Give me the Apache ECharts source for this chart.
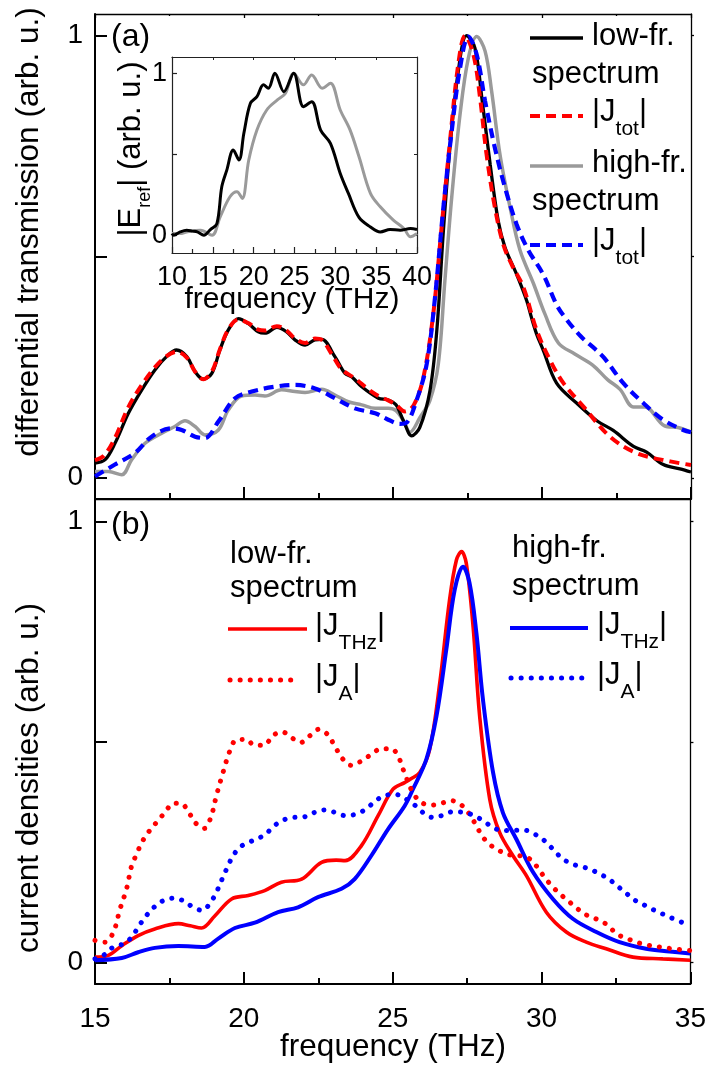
<!DOCTYPE html>
<html><head><meta charset="utf-8">
<script src="https://cdn.jsdelivr.net/npm/echarts@6/dist/echarts.min.js"></script>
<style>html,body{margin:0;padding:0;background:#fff}#c{width:709px;height:1068px}</style>
</head><body><div id="c"></div><script>
// ---------- DATA ----------
// Panel (a): differential transmission, [frequency THz, value]
const lowSpecTrans = [[15,0.033],[15.34,0.041],[15.67,0.078],[16.12,0.146],[16.57,0.199],[17.01,0.244],[17.4,0.274],[17.74,0.289],[18.08,0.274],[18.36,0.24],[18.63,0.223],[18.92,0.236],[19.19,0.289],[19.47,0.334],[19.81,0.36],[20.14,0.349],[20.48,0.33],[20.7,0.327],[21.1,0.34],[21.43,0.33],[21.71,0.312],[22.05,0.30],[22.38,0.312],[22.61,0.313],[23.05,0.274],[23.39,0.236],[23.62,0.228],[23.95,0.206],[24.51,0.18],[24.84,0.176],[25.1,0.165],[25.35,0.129],[25.63,0.095],[25.9,0.114],[26.24,0.197],[26.47,0.333],[26.69,0.558],[26.91,0.746],[27.19,0.919],[27.47,1.0],[27.75,0.972],[27.98,0.86],[28.26,0.709],[28.53,0.581],[28.76,0.521],[29.15,0.46],[29.49,0.40],[29.64,0.364],[29.82,0.325],[30.04,0.289],[30.49,0.214],[31.16,0.169],[31.84,0.129],[32.39,0.107],[33.07,0.071],[33.51,0.058],[34.07,0.03],[34.63,0.02],[35,0.013]];
const lowSpecJtot = [[15,0.04],[15.3,0.05],[15.67,0.09],[16.12,0.16],[16.57,0.21],[17.01,0.25],[17.4,0.275],[17.74,0.285],[18.08,0.272],[18.36,0.24],[18.63,0.223],[18.92,0.24],[19.19,0.29],[19.47,0.335],[19.81,0.358],[20.14,0.35],[20.48,0.335],[20.7,0.333],[21.1,0.343],[21.43,0.333],[21.71,0.315],[22.05,0.305],[22.38,0.315],[22.61,0.312],[22.94,0.28],[23.28,0.245],[23.72,0.225],[24.17,0.2],[24.51,0.185],[24.84,0.175],[25.1,0.165],[25.4,0.15],[25.7,0.165],[26.02,0.227],[26.35,0.37],[26.63,0.566],[26.91,0.76],[27.19,0.935],[27.42,1.0],[27.7,0.957],[27.92,0.86],[28.14,0.731],[28.42,0.611],[28.7,0.528],[29.0,0.48],[29.37,0.432],[29.82,0.334],[30.27,0.266],[30.72,0.214],[31.39,0.161],[32.28,0.093],[33.17,0.056],[34.3,0.037],[35,0.029]];
const highSpecTrans = [[15,0.014],[15.45,0.014],[15.9,0.007],[16.23,0.041],[16.68,0.078],[17.24,0.101],[17.68,0.116],[18.02,0.129],[18.36,0.116],[18.69,0.097],[19.14,0.108],[19.47,0.153],[19.92,0.185],[20.37,0.187],[20.7,0.185],[21.26,0.199],[21.71,0.195],[22.05,0.193],[22.61,0.2],[23.05,0.187],[23.5,0.172],[23.95,0.165],[24.4,0.157],[24.84,0.157],[25.1,0.152],[25.35,0.129],[25.57,0.103],[25.91,0.137],[26.24,0.175],[26.52,0.257],[26.74,0.445],[26.97,0.634],[27.25,0.822],[27.53,0.95],[27.81,0.998],[28.09,0.965],[28.31,0.874],[28.59,0.731],[28.93,0.611],[29.26,0.515],[29.71,0.44],[30.1,0.37],[30.55,0.305],[31.1,0.28],[31.7,0.255],[32.2,0.222],[32.62,0.2],[33.07,0.16],[33.45,0.16],[34.1,0.118],[34.6,0.113],[35,0.103]];
const highSpecJtot = [[15,0.003],[15.67,0.03],[16.34,0.056],[16.9,0.093],[17.57,0.112],[17.91,0.108],[18.36,0.093],[18.69,0.09],[19.14,0.127],[19.7,0.18],[20.26,0.195],[21.04,0.206],[21.71,0.21],[22.38,0.202],[23.05,0.18],[23.72,0.157],[24.4,0.146],[24.79,0.133],[25.23,0.122],[25.46,0.125],[25.79,0.175],[26.13,0.257],[26.41,0.408],[26.69,0.611],[26.97,0.784],[27.25,0.927],[27.53,0.998],[27.81,0.957],[28.09,0.852],[28.42,0.746],[28.76,0.656],[29.15,0.573],[29.54,0.515],[30.04,0.46],[30.5,0.39],[30.8,0.36],[31.3,0.32],[31.8,0.29],[32.1,0.27],[32.73,0.214],[33.4,0.169],[34.07,0.131],[34.74,0.108],[35,0.103]];
// Inset: reference field spectra
const insetLow = [[10,0.01],[10.2,0.0],[11,0.02],[11.8,0.03],[12.5,0.025],[13.1,0.02],[13.9,0.0],[14.7,0.035],[15.5,0.072],[16.1,0.3],[16.7,0.4],[17.5,0.526],[18.2,0.464],[18.8,0.629],[19.6,0.814],[20.4,0.855],[21.2,0.928],[21.8,0.907],[22.6,1.0],[23.7,0.886],[24.9,1.0],[26.1,0.793],[27.1,0.824],[28.2,0.649],[29.4,0.567],[30.6,0.381],[31.6,0.258],[32.9,0.11],[34.3,0.051],[35.5,0.02],[36.7,0.035],[37.95,0.031],[39.2,0.041],[40,0.035]];
const insetHigh = [[10,0.01],[11,0.01],[11.8,0.02],[13.5,0.03],[14.9,0.0],[15.9,0.113],[17.1,0.237],[17.95,0.268],[18.6,0.227],[19.4,0.464],[20.4,0.649],[21.6,0.773],[22.9,0.835],[23.9,0.876],[24.9,1.0],[26.1,0.928],[27.1,0.989],[28.4,0.907],[29.4,0.938],[30.6,0.773],[31.8,0.65],[32.9,0.484],[34.3,0.258],[35.5,0.175],[37.1,0.093],[38.4,0.041],[39.2,-0.01],[40,0.01]];
// Panel (b): current densities
const lowJTHz = [[15,0.012],[15.45,0.016],[15.9,0.038],[16.45,0.061],[17.01,0.076],[17.8,0.088],[18.2,0.083],[18.58,0.078],[19.03,0.106],[19.59,0.144],[20.15,0.152],[20.7,0.163],[21.26,0.182],[21.94,0.189],[22.61,0.227],[23.1,0.232],[23.4,0.231],[23.95,0.265],[24.51,0.333],[25.01,0.393],[25.4,0.408],[25.6,0.416],[25.91,0.431],[26.24,0.483],[26.58,0.634],[26.91,0.823],[27.14,0.913],[27.31,0.932],[27.47,0.906],[27.7,0.762],[27.92,0.559],[28.26,0.37],[28.59,0.295],[29.04,0.242],[29.49,0.197],[30.16,0.114],[30.83,0.069],[31.5,0.046],[32.17,0.031],[33.07,0.012],[34.07,0.008],[35,0.005]];
const highJTHz = [[15,0.005],[15.9,0.01],[16.45,0.023],[17.01,0.033],[17.8,0.037],[18.69,0.035],[19.14,0.054],[19.7,0.078],[20.37,0.09],[21.15,0.114],[21.82,0.125],[22.49,0.148],[23.28,0.167],[23.72,0.189],[24.28,0.242],[24.84,0.302],[25.4,0.355],[25.68,0.393],[26.13,0.461],[26.47,0.559],[26.8,0.71],[27.08,0.845],[27.36,0.898],[27.58,0.861],[27.81,0.748],[28.03,0.597],[28.37,0.431],[28.7,0.34],[29.15,0.28],[29.71,0.205],[30.38,0.144],[31.05,0.099],[31.84,0.069],[32.62,0.046],[33.51,0.031],[34.3,0.025],[35,0.02]];
const lowJA = [[15,0.05],[15.34,0.046],[15.62,0.069],[15.84,0.121],[16.06,0.167],[16.23,0.219],[16.4,0.246],[16.57,0.272],[16.79,0.295],[17.07,0.318],[17.35,0.34],[17.63,0.361],[17.89,0.361],[18.15,0.34],[18.41,0.314],[18.67,0.304],[18.89,0.329],[19.08,0.379],[19.3,0.431],[19.53,0.48],[19.75,0.505],[20.09,0.506],[20.34,0.493],[20.68,0.493],[20.98,0.515],[21.29,0.523],[21.6,0.51],[21.91,0.499],[22.21,0.514],[22.52,0.529],[22.83,0.516],[23.05,0.491],[23.33,0.461],[23.61,0.447],[23.95,0.457],[24.28,0.472],[24.62,0.485],[24.96,0.485],[25.2,0.465],[25.35,0.438],[25.68,0.385],[25.96,0.363],[26.3,0.357],[26.63,0.361],[26.97,0.367],[27.31,0.357],[27.58,0.336],[27.81,0.31],[28.03,0.284],[28.31,0.265],[28.59,0.253],[28.93,0.244],[29.26,0.242],[29.6,0.235],[29.88,0.214],[30.1,0.193],[30.38,0.171],[30.66,0.153],[30.94,0.137],[31.22,0.121],[31.55,0.106],[31.89,0.097],[32.23,0.084],[32.51,0.065],[32.84,0.055],[33.18,0.046],[33.51,0.04],[33.96,0.035],[34.4,0.031],[35,0.027]];
const highJA = [[15,0.008],[15.28,0.016],[15.62,0.035],[15.95,0.042],[16.23,0.057],[16.45,0.08],[16.7,0.104],[16.98,0.125],[17.29,0.14],[17.66,0.146],[17.99,0.139],[18.3,0.125],[18.6,0.118],[18.89,0.137],[19.09,0.161],[19.25,0.186],[19.42,0.212],[19.59,0.236],[19.84,0.26],[20.15,0.272],[20.48,0.281],[20.76,0.293],[21.02,0.31],[21.32,0.323],[21.66,0.329],[22.01,0.33],[22.36,0.34],[22.72,0.346],[23.08,0.34],[23.41,0.333],[23.84,0.338],[24.17,0.352],[24.45,0.368],[24.75,0.379],[25.1,0.381],[25.46,0.37],[25.74,0.357],[26.02,0.34],[26.35,0.329],[26.69,0.334],[27.02,0.342],[27.42,0.34],[27.7,0.334],[28.05,0.321],[28.37,0.306],[28.7,0.299],[29.04,0.3],[29.43,0.3],[29.77,0.291],[30.1,0.276],[30.38,0.257],[30.69,0.236],[31.03,0.223],[31.37,0.217],[31.67,0.21],[31.95,0.201],[32.26,0.189],[32.57,0.172],[32.84,0.157],[33.16,0.14],[33.48,0.129],[33.8,0.118],[34.13,0.108],[34.43,0.099],[34.75,0.09]];
// Tick labels
const yTickValues = [0, 0.5, 1];
const yLabelValues = [0, 1];
const mainXRange = [15, 35];
const insetXRange = [10, 40];

// ---------- STYLE ----------
const FONT = '"Liberation Sans", Arial, Helvetica, sans-serif';
const RED = '#ff0000', BLUE = '#0000ff', GRAY = '#9a9a9a', BLACK = '#000000';

const chart = echarts.init(document.getElementById('c'), null, {renderer: 'canvas'});

function xAx(grid, range, opt) {
  return Object.assign({
    type: 'value', gridIndex: grid, min: range[0], max: range[1], interval: 5,
    splitLine: {show: false},
    axisLine: {show: true, onZero: false, lineStyle: {color: BLACK, width: 2}},
    axisTick: {show: true, inside: true, length: 12, lineStyle: {color: BLACK, width: 2}},
    minorTick: {show: true, splitNumber: 2, length: 6, lineStyle: {color: BLACK, width: 2}},
    axisLabel: {show: false}
  }, opt);
}
function yAx(grid, min, max, opt) {
  return Object.assign({
    type: 'value', gridIndex: grid, min: min, max: max,
    splitLine: {show: false},
    axisLine: {show: true, onZero: false, lineStyle: {color: BLACK, width: 2}},
    axisTick: {show: true, inside: true, length: 12, customValues: yTickValues, lineStyle: {color: BLACK, width: 2}},
    axisLabel: {show: true, customValues: yLabelValues, fontSize: 28, fontFamily: FONT, color: BLACK, margin: 12,
      formatter: v => String(Math.round(v))}
  }, opt);
}
const mirrorLine = {show: true, onZero: false, lineStyle: {color: BLACK, width: 1.3}};

function line(name, data, xi, yi, color, width, type, z) {
  return {
    name, type: 'line', data, xAxisIndex: xi, yAxisIndex: yi, showSymbol: false, symbol: 'none',
    smooth: 0.35, z: z || 2, animation: false, silent: true,
    lineStyle: {color, width, type: type || 'solid', cap: type && type[0] < 1 ? 'round' : 'butt'}
  };
}

// rich text helper for subscripts
function richStyles(main, sub, drop) {
  const lh = main + 4;
  const T = lh / 2 + 0.3465 * main + drop - sub * (0.5 + 0.3465);
  return {
    n: {fontSize: main, lineHeight: lh, fontFamily: FONT, fill: BLACK, verticalAlign: 'top'},
    s: {fontSize: sub, lineHeight: sub, fontFamily: FONT, fill: BLACK, verticalAlign: 'top', padding: [T, 0, 0, 0]}
  };
}
function subText(x, y, main, sub, rest, size, subSize, drop, align, rotation) {
  const lh = size + 4;
  return {
    type: 'text', x: x, y: y, rotation: rotation || 0, z: 100, silent: true,
    style: {
      text: '{n|' + main + '}{s|' + sub + '}{n|' + rest + '}',
      rich: richStyles(size, subSize, drop), x: 0, y: -lh / 2,
      align: align || 'left', verticalAlign: 'top', fill: BLACK
    }
  };
}
function plainText(x, y, text, size, align, rotation) {
  return {
    type: 'text', x: x, y: y, rotation: rotation || 0, z: 100, silent: true,
    style: {text, fontSize: size, fontFamily: FONT, fill: BLACK, align: align || 'left', verticalAlign: 'middle'}
  };
}
function legLine(x1, x2, y, color, width, dash) {
  return {
    type: 'line', z: 100, silent: true,
    shape: {x1, y1: y, x2, y2: y},
    style: {stroke: color, lineWidth: width, lineDash: dash || null, lineCap: dash && dash[0] < 1 ? 'round' : 'butt'}
  };
}

const DASH = [10, 6];
const DOT = [0.1, 10];

const option = {
  backgroundColor: '#ffffff',
  animation: false,
  grid: [
    {left: 95, top: 14, width: 596, height: 485},
    {left: 95, top: 499, width: 596, height: 485},
    {left: 172, top: 57, width: 245, height: 196, backgroundColor: '#fff', show: true, borderWidth: 0}
  ],
  xAxis: [
    xAx(0, mainXRange, {position: 'bottom'}),
    xAx(0, mainXRange, {position: 'top', axisLine: mirrorLine, axisTick: {show: true, inside: true, length: 4, lineStyle: {color: BLACK, width: 1.3}}, minorTick: {show: true, splitNumber: 2, length: 2, lineStyle: {color: BLACK, width: 1.3}}}),
    xAx(1, mainXRange, {position: 'bottom', axisLabel: {show: true, fontSize: 28, fontFamily: FONT, color: BLACK, margin: 21}}),
    xAx(1, mainXRange, {position: 'top', axisLine: mirrorLine, axisTick: {show: false}, minorTick: {show: false}}),
    xAx(2, insetXRange, {position: 'bottom', axisLine: {show: true, onZero: false, lineStyle: {color: '#222', width: 1.2}},
      axisTick: {show: true, inside: true, length: 6, lineStyle: {color: '#222', width: 1.2}},
      minorTick: {show: true, splitNumber: 2, length: 4, lineStyle: {color: '#222', width: 1.2}},
      axisLabel: {show: true, fontSize: 27, fontFamily: FONT, color: BLACK, margin: 11}}),
    xAx(2, insetXRange, {position: 'top', axisLine: {show: true, onZero: false, lineStyle: {color: '#222', width: 1.2}},
      axisTick: {show: true, inside: true, length: 3, lineStyle: {color: '#222', width: 1}},
      minorTick: {show: false}})
  ],
  yAxis: [
    yAx(0, -0.048, 1.049, {position: 'left'}),
    yAx(0, -0.048, 1.049, {position: 'right', axisLine: mirrorLine, axisTick: {show: true, inside: false, length: 3, customValues: yTickValues, lineStyle: {color: BLACK, width: 1.3}}, axisLabel: {show: false}}),
    yAx(1, -0.049, 1.0515, {position: 'left'}),
    yAx(1, -0.049, 1.0515, {position: 'right', axisLine: mirrorLine, axisTick: {show: true, inside: false, length: 3, customValues: yTickValues, lineStyle: {color: BLACK, width: 1.3}}, axisLabel: {show: false}}),
    yAx(2, -0.11, 1.1, {position: 'left', axisLine: {show: true, onZero: false, lineStyle: {color: '#222', width: 1.2}},
      axisTick: {show: true, inside: true, length: 5, customValues: yTickValues, lineStyle: {color: '#222', width: 1.2}},
      axisLabel: {show: true, customValues: yLabelValues, fontSize: 27, fontFamily: FONT, color: BLACK, margin: 5, formatter: v => String(Math.round(v))}}),
    yAx(2, -0.11, 1.1, {position: 'right', axisLine: {show: true, onZero: false, lineStyle: {color: '#222', width: 1.2}},
      axisTick: {show: true, inside: true, length: 3, customValues: yTickValues, lineStyle: {color: '#222', width: 1}},
      axisLabel: {show: false}})
  ],
  series: [
    line('high-fr. spectrum', highSpecTrans, 0, 0, GRAY, 3.5, 'solid', 2),
    line('low-fr. spectrum', lowSpecTrans, 0, 0, BLACK, 3.3, 'solid', 3),
    line('|J_tot| low', lowSpecJtot, 0, 0, RED, 4, DASH, 4),
    line('|J_tot| high', highSpecJtot, 0, 0, BLUE, 4.2, DASH, 5),
    line('inset low', insetLow, 4, 4, BLACK, 3, 'solid', 6),
    line('inset high', insetHigh, 4, 4, GRAY, 3, 'solid', 5),
    line('|J_THz| low', lowJTHz, 2, 2, RED, 3.6, 'solid', 3),
    line('|J_THz| high', highJTHz, 2, 2, BLUE, 4, 'solid', 4),
    line('|J_A| low', lowJA, 2, 2, RED, 5, DOT, 5),
    line('|J_A| high', highJA, 2, 2, BLUE, 5, DOT, 6)
  ],
  graphic: {elements: [
    // axis titles
    plainText(29, 232, 'differential transmission (arb. u.)', 31.5, 'center', Math.PI / 2),
    plainText(29, 778, 'current densities (arb. u.)', 31.5, 'center', Math.PI / 2),
    plainText(393, 1047, 'frequency (THz)', 31.5, 'center'),
    plainText(292, 300, 'frequency (THz)', 30, 'center'),
    subText(133, 149, '|E', 'ref', '| (arb. u.)', 31, 18, 8, 'center', Math.PI / 2),
    // panel labels
    plainText(111, 37, '(a)', 32, 'left'),
    plainText(111, 525, '(b)', 32, 'left'),
    // legend (a)
    legLine(530, 583, 38, BLACK, 3.5),
    plainText(592, 36, 'low-fr.', 31, 'left'),
    plainText(532, 74, 'spectrum', 31, 'left'),
    legLine(530, 583, 116, RED, 4, DASH),
    subText(592, 114, '|J', 'tot', '|', 31, 21, 12),
    legLine(530, 583, 166, GRAY, 3.5),
    plainText(592, 163, 'high-fr.', 31, 'left'),
    plainText(532, 201, 'spectrum', 31, 'left'),
    legLine(530, 583, 245, BLUE, 4.2, DASH),
    subText(592, 243, '|J', 'tot', '|', 31, 21, 12),
    // legend (b)
    plainText(230, 554, 'low-fr.', 31, 'left'),
    plainText(230, 588, 'spectrum', 31, 'left'),
    legLine(228, 307, 629, RED, 3.6),
    subText(315, 628, '|J', 'THz', '|', 31, 21, 12),
    legLine(230, 297, 680, RED, 5, DOT),
    subText(315, 679, '|J', 'A', '|', 31, 21, 12),
    plainText(512, 548, 'high-fr.', 31, 'left'),
    plainText(512, 586, 'spectrum', 31, 'left'),
    legLine(510, 588, 628, BLUE, 4),
    subText(597, 627, '|J', 'THz', '|', 31, 21, 12),
    legLine(511, 582, 678, BLUE, 5, DOT),
    subText(597, 677, '|J', 'A', '|', 31, 21, 12)
  ]}
};
chart.setOption(option);
</script></body></html>
